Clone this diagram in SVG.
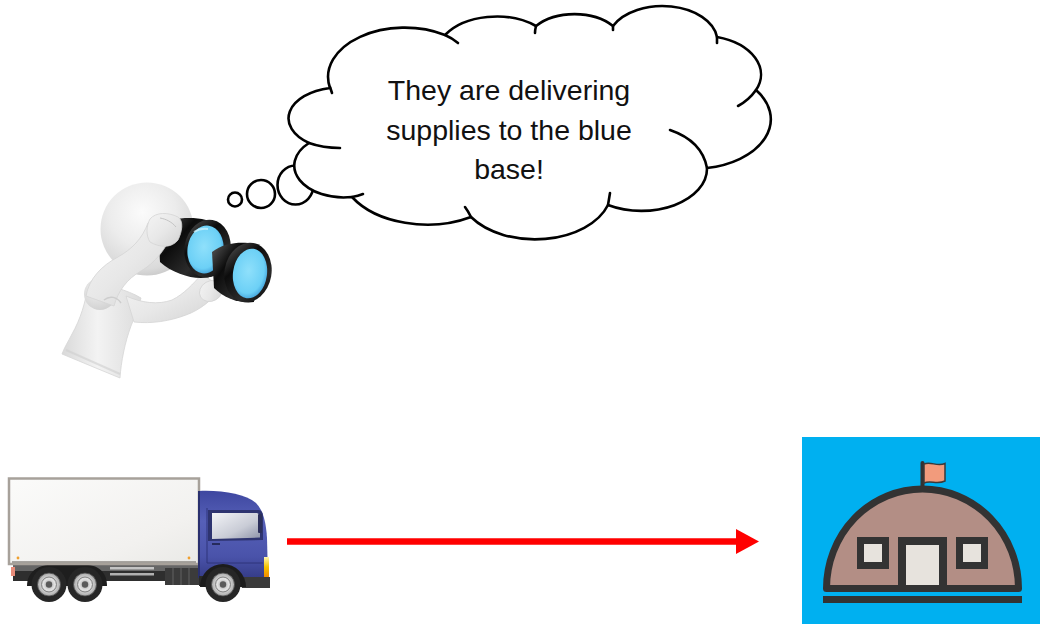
<svg xmlns="http://www.w3.org/2000/svg" width="1040" height="624" viewBox="0 0 1040 624">
  <style>
    .cloud { fill: #ffffff; stroke: #000000; stroke-width: 2.6; stroke-linejoin: round; }
    .crease { fill: none; stroke: #000000; stroke-width: 2.6; stroke-linecap: round; }
    .bubble { fill: #ffffff; stroke: #000000; stroke-width: 2.6; }
    .say { font-family: "Liberation Sans", Arial, sans-serif; font-size: 28.5px; fill: #111111; text-anchor: middle; }
    .skin { fill: url(#skinGrad); stroke: #d4d4d4; stroke-width: 0.8; }
    .rim { fill: url(#rimBlack); }
    .lens { fill: url(#lensGrad); }
    .dark { fill: #333333; }
    .pane { fill: #e7e3dd; }
    .arrow { stroke: #ff0000; stroke-width: 6.5; fill: none; }
  </style>
  <defs>
    <radialGradient id="headGrad" cx="0.45" cy="0.32" r="0.72">
      <stop offset="0" stop-color="#fbfbfb"/>
      <stop offset="0.5" stop-color="#ececec"/>
      <stop offset="0.85" stop-color="#dadada"/>
      <stop offset="1" stop-color="#c6c6c6"/>
    </radialGradient>
    <linearGradient id="skinGrad" x1="0" y1="0" x2="1" y2="1">
      <stop offset="0" stop-color="#f4f4f4"/>
      <stop offset="0.5" stop-color="#e8e8e8"/>
      <stop offset="1" stop-color="#d2d2d2"/>
    </linearGradient>
    <linearGradient id="torsoGrad" x1="0" y1="0" x2="1" y2="0">
      <stop offset="0" stop-color="#d9d9d9"/>
      <stop offset="0.45" stop-color="#f3f3f3"/>
      <stop offset="1" stop-color="#dcdcdc"/>
    </linearGradient>
    <radialGradient id="shoulderGrad" cx="0.4" cy="0.35" r="0.7">
      <stop offset="0" stop-color="#f2f2f2"/>
      <stop offset="1" stop-color="#d0d0d0"/>
    </radialGradient>
    <linearGradient id="rimBlack" x1="0" y1="0" x2="1" y2="1">
      <stop offset="0" stop-color="#5a5a5a"/>
      <stop offset="0.35" stop-color="#0c0c0c"/>
      <stop offset="0.7" stop-color="#2b2b2b"/>
      <stop offset="1" stop-color="#050505"/>
    </linearGradient>
    <radialGradient id="lensGrad" cx="0.45" cy="0.45" r="0.6">
      <stop offset="0" stop-color="#8fe0fb"/>
      <stop offset="0.75" stop-color="#6cd0f6"/>
      <stop offset="1" stop-color="#3f9ed8"/>
    </radialGradient>
    <linearGradient id="boxGrad" x1="0" y1="0" x2="1" y2="1">
      <stop offset="0" stop-color="#fbfbfa"/>
      <stop offset="0.7" stop-color="#f2f1ef"/>
      <stop offset="1" stop-color="#e9e9e6"/>
    </linearGradient>
    <linearGradient id="cabGrad" x1="0" y1="0" x2="0" y2="1">
      <stop offset="0" stop-color="#3e47a0"/>
      <stop offset="0.35" stop-color="#5660b8"/>
      <stop offset="0.75" stop-color="#4a53aa"/>
      <stop offset="1" stop-color="#353c88"/>
    </linearGradient>
    <linearGradient id="glassGrad" x1="0" y1="0" x2="1" y2="1">
      <stop offset="0" stop-color="#f3f4f7"/>
      <stop offset="0.6" stop-color="#c9ccd6"/>
      <stop offset="1" stop-color="#8d93a8"/>
    </linearGradient>
    <radialGradient id="hubGrad" cx="0.5" cy="0.5" r="0.5">
      <stop offset="0" stop-color="#9b9b9b"/>
      <stop offset="0.5" stop-color="#e3e3e3"/>
      <stop offset="1" stop-color="#a8a8a8"/>
    </radialGradient>
    <linearGradient id="lampGrad" x1="0" y1="0" x2="0" y2="1">
      <stop offset="0" stop-color="#fff6b0"/>
      <stop offset="0.5" stop-color="#f5c400"/>
      <stop offset="1" stop-color="#f08a00"/>
    </linearGradient>
    <g id="wheel">
      <circle r="17.5" fill="#262626"/>
      <circle r="11.5" fill="url(#hubGrad)" stroke="#4a4a4a" stroke-width="0.8"/>
      <circle r="7.5" fill="none" stroke="#808080" stroke-width="1"/>
      <circle r="3.2" fill="#5a5a5a"/>
    </g>
    <marker id="redHead" markerUnits="userSpaceOnUse" markerWidth="24" markerHeight="25" refX="1" refY="12.5" orient="auto">
      <path d="M0,0 L23,12.5 L0,25 Z" fill="#ff0000"/>
    </marker>
  </defs>

  <rect width="1040" height="624" fill="#ffffff"/>

  <!-- thought cloud with its trailing bubbles -->
  <g id="thought-cloud">
    <circle class="bubble" cx="235" cy="199.5" r="7"/>
    <circle class="bubble" cx="261" cy="194" r="14"/>
    <ellipse class="bubble" cx="295.5" cy="185" rx="18" ry="19.5"/>
    <path class="cloud" d="M309,143 A52 31 0 0 1 330,88 A76.6 49.4 0 0 1 445,35 A60.5 39 0 0 1 536,26 A49.5 32 0 0 1 613,26 A55 35.4 0 0 1 717,37 A60.5 39 0 0 1 756,90 A76.8 49.5 0 0 1 707,168 A65.6 42.2 0 0 1 608,205 A76.6 49.5 0 0 1 471,217 A87.5 56.6 0 0 1 352,197 A49.4 31.8 0 0 1 309,143 Z"/>
    <path class="crease" d="M309,143 Q323,148 340,148"/>
    <path class="crease" d="M330,87 L332,93"/>
    <path class="crease" d="M445,35 Q452,38 458,43"/>
    <path class="crease" d="M536,26 Q535,30 535,33"/>
    <path class="crease" d="M613,26 L613,30"/>
    <path class="crease" d="M717,37 L717,43"/>
    <path class="crease" d="M756,90 Q749,100 738,106"/>
    <path class="crease" d="M670,130 Q702,141 707,168"/>
    <path class="crease" d="M608,205 Q609,199 610,193"/>
    <path class="crease" d="M471,217 Q468,211 465,207"/>
    <path class="crease" d="M352,197 Q358,196 363,194"/>
    <text class="say" x="509" y="100">They are delivering</text>
    <text class="say" x="509" y="139.5">supplies to the blue</text>
    <text class="say" x="509" y="179">base!</text>
  </g>

  <!-- figure looking through binoculars -->
  <g id="observer">
    <!-- torso -->
    <path d="M88,284 C86,302 80,320 72,334 C68,342 64,348 62,354 L120,378 C121,362 125,342 131,326 C135,316 139,306 141,298 C128,290 106,284 88,284 Z" fill="url(#torsoGrad)" stroke="#d6d6d6" stroke-width="0.8"/>
    <path d="M66,350 L120,374" stroke="#cfcfcf" stroke-width="2" opacity="0.6"/>
    <!-- head -->
    <circle cx="147" cy="229" r="46.5" fill="url(#headGrad)"/>
    <!-- lower arm reaching under the binoculars -->
    <path class="skin" d="M126,296 C142,303 158,305 172,300 C184,294 193,284 202,274 L222,288 C212,300 200,310 186,315 C170,321 152,324 134,322 Z"/>
    <ellipse class="skin" cx="211" cy="291" rx="12" ry="10" transform="rotate(-30 211 291)"/>
    <!-- left barrel -->
    <path class="rim" d="M158,226 C170,218 190,216 206,220 L214,276 C198,281 176,276 160,262 Z"/>
    <ellipse class="rim" cx="207.5" cy="248.5" rx="23" ry="29" transform="rotate(10 207.5 248.5)"/>
    <ellipse class="lens" cx="205.5" cy="249.5" rx="18" ry="24" transform="rotate(8 205.5 249.5)"/>
    <path d="M194,232 Q200,228 208,229" stroke="#d8f6ff" stroke-width="2" fill="none" opacity="0.7"/>
    <!-- right barrel -->
    <path class="rim" d="M212,252 C222,244 236,242 248,243 L254,302 C240,304 224,298 214,288 Z"/>
    <ellipse class="rim" cx="248" cy="272.5" rx="23.5" ry="30" transform="rotate(10 248 272.5)"/>
    <ellipse class="lens" cx="250" cy="273.5" rx="17" ry="25" transform="rotate(8 250 273.5)"/>
    <!-- raised arm with hand resting on top -->
    <circle cx="100" cy="294" r="16" fill="url(#shoulderGrad)"/>
    <path class="skin" d="M86,296 C89,279 101,266 118,257 C132,249 142,239 148,223 L173,231 C167,248 155,263 141,271 C127,279 118,291 114,306 Z"/>
    <path class="skin" d="M150,219 C156,212 168,212 178,217 C184,221 182,232 178,240 C172,248 160,248 150,242 C146,236 146,226 150,219 Z"/>
    <path d="M160,218 C166,219 172,222 176,227" stroke="#c4c4c4" stroke-width="1" fill="none"/>
    <path d="M104,300 C110,295 117,297 121,303" stroke="#cdcdcd" stroke-width="1.5" fill="none"/>
  </g>

  <!-- delivery truck -->
  <g id="truck">
    <!-- chassis -->
    <rect x="13" y="564" width="188" height="8" fill="#666666"/>
    <rect x="13" y="571" width="188" height="10" fill="#2e2e2e"/>
    <rect x="11" y="567" width="4" height="9" fill="#e88c7a"/>
    <path d="M27,586 C27,572 38,565 50,565 L86,565 C98,565 107,572 107,586 Z" fill="#1e1e1e"/>
    <rect x="110" y="567" width="44" height="2.5" fill="#c4c4c4"/>
    <rect x="110" y="573" width="44" height="2.5" fill="#b0b0b0"/>
    <rect x="165" y="568" width="36" height="17" fill="#3b3b3b"/>
    <path d="M173,568 V585 M181,568 V585 M189,568 V585" stroke="#5c5c5c" stroke-width="1.2"/>
    <!-- cargo box -->
    <rect x="9" y="478.5" width="190" height="85.5" fill="url(#boxGrad)" stroke="#a7a19a" stroke-width="2.5"/>
    <path d="M12,562 H196" stroke="#8e8a84" stroke-width="1.5"/>
    <circle cx="18" cy="558" r="1.4" fill="#f0a030"/>
    <circle cx="189" cy="558" r="1.4" fill="#f0a030"/>
    <!-- cab -->
    <path d="M199,491 C222,490 245,494 256,503 C263,510 266,522 267,538 L268,578 L199,578 Z" fill="url(#cabGrad)"/>
    <path d="M199,491 V578" stroke="#2a306e" stroke-width="2"/>
    <path d="M207,508 V563 H263" stroke="#2f357a" stroke-width="1" fill="none"/>
    <path d="M208,510 L259,510 Q263,511 263,516 L263,540 L208,541 Z" fill="#2e3470"/>
    <path d="M212,513 L257,513 Q260,514 260,518 L260,537.5 L212,539 Z" fill="url(#glassGrad)"/>
    <rect x="212" y="543" width="8" height="2" fill="#262b5c"/>
    <rect x="258" y="514" width="4" height="19" rx="1" fill="#2b2f5a"/>
    <rect x="264" y="557" width="5" height="20" fill="url(#lampGrad)"/>
    <path d="M238,577 L270,577 L270,588 L242,588 Z" fill="#3a3a3a"/>
    <path d="M199,576 L204,576 L204,586 L199,586 Z" fill="#2a2a2a"/>
    <path d="M200,587 A23 23 0 0 1 246,587 Z" fill="#1c1c1c"/>
    <!-- wheels -->
    <use href="#wheel" x="49" y="584.5"/>
    <use href="#wheel" x="85" y="584.5"/>
    <use href="#wheel" x="223" y="584.5"/>
  </g>

  <!-- blue base: domed hut with flag -->
  <g id="blue-base">
    <rect x="802" y="437" width="238" height="187" fill="#00b0f0"/>
    <rect x="920.5" y="461" width="4" height="30" rx="2" class="dark"/>
    <path d="M924,464 C931,461 937,467 945,463.5 L945,481 C937,485 931,480 924,483 Z" fill="#f29b7c" stroke="#3a3a3a" stroke-width="1.5"/>
    <path d="M826.5,588.5 A96 99.5 0 0 1 1018.5,588.5 Z" fill="#b38e85" stroke="#333333" stroke-width="7" stroke-linejoin="round"/>
    <rect x="823" y="596" width="199" height="7" class="dark"/>
    <rect x="857" y="537" width="32" height="32" class="dark"/>
    <rect x="864" y="544" width="18" height="18" class="pane"/>
    <rect x="956" y="537" width="32" height="32" class="dark"/>
    <rect x="963" y="544" width="18" height="18" class="pane"/>
    <rect x="898" y="537" width="49" height="51" class="dark"/>
    <rect x="906" y="545" width="33" height="40" class="pane"/>
  </g>

  <!-- connector: truck heading to the base -->
  <g id="connectors">
    <line class="arrow" x1="287" y1="541.5" x2="737" y2="541.5" marker-end="url(#redHead)"/>
  </g>
</svg>
